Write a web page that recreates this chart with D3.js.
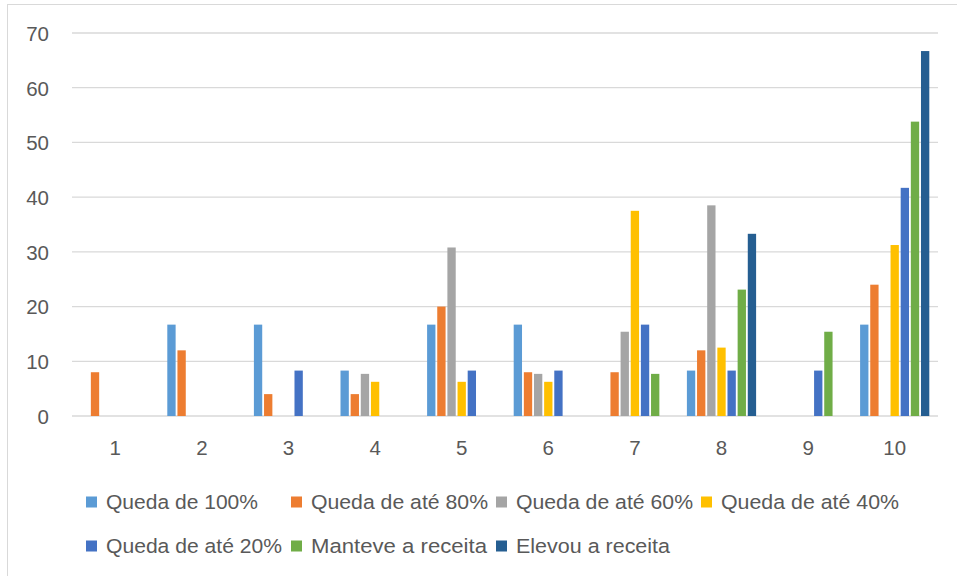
<!DOCTYPE html>
<html>
<head>
<meta charset="utf-8">
<script src="https://cdn.jsdelivr.net/npm/d3@7"></script>
<style>
  html, body { margin: 0; padding: 0; background: #fff; }
  svg { display: block; }
  text { font-family: "Liberation Sans", Arial, sans-serif; fill: #595959; }
</style>
</head>
<body>
<svg id="chart" width="957" height="576"></svg>
<script>
// Categories along the x axis
const categories = ["1", "2", "3", "4", "5", "6", "7", "8", "9", "10"];

// Series names (legend order)
const seriesNames = [
  "Queda de 100%",
  "Queda de até 80%",
  "Queda de até 60%",
  "Queda de até 40%",
  "Queda de até 20%",
  "Manteve a receita",
  "Elevou a receita"
];

// Values per series, one per category (percent)
const queda100 = [0, 16.7, 16.7, 8.3, 16.7, 16.7, 0, 8.3, 0, 16.7];
const queda80  = [8, 12, 4, 4, 20, 8, 8, 12, 0, 24];
const queda60  = [0, 0, 0, 7.7, 30.8, 7.7, 15.4, 38.5, 0, 0];
const queda40  = [0, 0, 0, 6.25, 6.25, 6.25, 37.5, 12.5, 0, 31.25];
const queda20  = [0, 0, 8.3, 0, 8.3, 8.3, 16.7, 8.3, 8.3, 41.7];
const manteve  = [0, 0, 0, 0, 0, 0, 7.7, 23.1, 15.4, 53.8];
const elevou   = [0, 0, 0, 0, 0, 0, 0, 33.3, 0, 66.7];

const seriesValues = [queda100, queda80, queda60, queda40, queda20, manteve, elevou];
const seriesColors = ["#5B9BD5", "#ED7D31", "#A5A5A5", "#FFC000", "#4472C4", "#70AD47", "#255E91"];

// Y axis ticks
const yTicks = [0, 10, 20, 30, 40, 50, 60, 70];

const svg = d3.select("#chart");

// Outer chart frame
svg.append("rect")
  .attr("x", 7.5).attr("y", 4.5)
  .attr("width", 960).attr("height", 580)
  .attr("fill", "none")
  .attr("stroke", "#D9D9D9")
  .attr("stroke-width", 1);

const plot = { left: 72, right: 938, top: 33, bottom: 416 };

const x0 = d3.scaleBand()
  .domain(categories)
  .range([plot.left, plot.right]);

const x1 = d3.scaleBand()
  .domain(seriesNames)
  .range([-34.6, 34.6])
  .paddingInner(0.18);

const y = d3.scaleLinear()
  .domain([0, 70])
  .range([plot.bottom, plot.top]);

// Horizontal gridlines
svg.append("g")
  .selectAll("line")
  .data(yTicks)
  .join("line")
  .attr("x1", plot.left).attr("x2", plot.right)
  .attr("y1", d => y(d)).attr("y2", d => y(d))
  .attr("stroke", "#D9D9D9")
  .attr("stroke-width", 1.3);

// Y axis labels
const yAxis = d3.axisLeft(y).tickValues(yTicks).tickSize(0).tickPadding(0);
const yg = svg.append("g")
  .attr("transform", `translate(49,0)`)
  .call(yAxis);
yg.select(".domain").remove();
yg.selectAll("text")
  .attr("font-size", 20.5)
  .attr("font-family", "Liberation Sans, Arial, sans-serif")
  .attr("fill", "#595959")
  .attr("dy", "0.36em");

// X axis labels
const xAxis = d3.axisBottom(x0).tickSize(0).tickPadding(0);
const xg = svg.append("g")
  .attr("transform", `translate(0,${plot.bottom})`)
  .call(xAxis);
xg.select(".domain").remove();
xg.selectAll("text")
  .attr("font-size", 20.5)
  .attr("font-family", "Liberation Sans, Arial, sans-serif")
  .attr("fill", "#595959")
  .attr("y", 38.5)
  .attr("dy", 0);

// Bars
const groups = svg.append("g")
  .selectAll("g")
  .data(categories)
  .join("g")
  .attr("transform", d => `translate(${x0(d) + x0.bandwidth() / 2},0)`);

groups.selectAll("rect")
  .data((c, ci) => seriesNames.map((s, si) => ({ s, v: seriesValues[si][ci], color: seriesColors[si] })))
  .join("rect")
  .filter(d => d.v > 0)
  .attr("x", d => x1(d.s))
  .attr("width", x1.bandwidth())
  .attr("y", d => y(d.v))
  .attr("height", d => y(0) - y(d.v))
  .attr("fill", d => d.color);

// Legend
const legendCols = [86, 291, 496, 701];
const legendRows = [502, 546];
const legendWidths = [152, 177, 177, 178, 176, 176, 154];
const legend = svg.append("g")
  .selectAll("g")
  .data(seriesNames)
  .join("g")
  .attr("transform", (d, i) => `translate(${legendCols[i % 4]},${legendRows[Math.floor(i / 4)]})`);

legend.append("rect")
  .attr("x", 0).attr("y", -5.5)
  .attr("width", 11).attr("height", 11)
  .attr("fill", (d, i) => seriesColors[i]);

legend.append("text")
  .attr("x", 20)
  .attr("y", 0)
  .attr("dy", "0.36em")
  .attr("font-size", 20.5)
  .attr("textLength", (d, i) => legendWidths[i])
  .attr("lengthAdjust", "spacingAndGlyphs")
  .text(d => d);
</script>
</body>
</html>
